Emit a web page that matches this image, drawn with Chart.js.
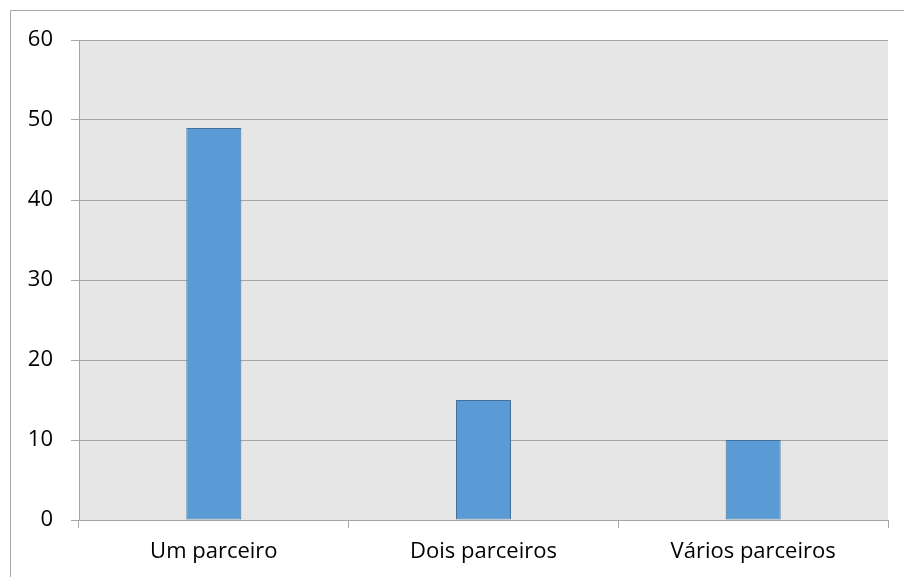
<!DOCTYPE html>
<html>
<head>
<meta charset="utf-8">
<script src="https://cdn.jsdelivr.net/npm/chart.js@4/dist/chart.umd.min.js"></script>
<style>
  html, body { margin: 0; padding: 0; background: #ffffff; }
  #wrap { position: relative; width: 904px; height: 577px; }
</style>
</head>
<body>
<div id="wrap"><canvas id="c" width="904" height="577"></canvas></div>
<script>
const categories = ['Um parceiro', 'Dois parceiros', 'Vários parceiros'];
const values = [49, 15, 10];
const yTicks = [0, 10, 20, 30, 40, 50, 60];

const FONT = { family: "'Open Sans', sans-serif", size: 22 };
const GRID = '#a6a6a6';

// Grey plot background plus the outer frame of the chart object
const framePlugin = {
  id: 'frame',
  beforeDraw(chart) {
    const { ctx, chartArea: a } = chart;
    ctx.save();
    ctx.fillStyle = '#ffffff';
    ctx.fillRect(0, 0, chart.width, chart.height);
    ctx.fillStyle = '#e6e6e6';
    ctx.fillRect(a.left, a.top, a.right - a.left, a.bottom - a.top);
    ctx.strokeStyle = '#a6a6a6';
    ctx.lineWidth = 1;
    ctx.beginPath();
    ctx.moveTo(10.5, chart.height);
    ctx.lineTo(10.5, 10.5);
    ctx.lineTo(chart.width, 10.5);
    ctx.stroke();
    ctx.restore();
  }
};

new Chart(document.getElementById('c'), {
  type: 'bar',
  data: {
    labels: categories,
    datasets: [{
      data: values,
      backgroundColor: '#5b9bd5',
      borderColor: '#41719c',
      borderWidth: 1,
      borderSkipped: false,
      categoryPercentage: 1,
      barPercentage: 0.204
    }]
  },
  options: {
    responsive: false,
    animation: false,
    devicePixelRatio: 1,
    layout: { padding: { top: 40, right: 16, left: 0, bottom: 0 } },
    plugins: { legend: { display: false }, tooltip: { enabled: false } },
    scales: {
      x: {
        grid: {
          offset: true,
          drawOnChartArea: false,
          drawTicks: true,
          tickLength: 8,
          color: GRID
        },
        border: { display: true, color: GRID },
        ticks: { color: '#000000', font: FONT, padding: 11, maxRotation: 0 },
        afterFit(scale) { scale.height = 57; }
      },
      y: {
        min: 0,
        max: 60,
        afterBuildTicks(scale) { scale.ticks = yTicks.map(v => ({ value: v })); },
        grid: { color: GRID, tickLength: 8 },
        border: { display: true, color: GRID },
        ticks: { color: '#000000', font: FONT, padding: 18 },
        afterFit(scale) { scale.width = 79; }
      }
    }
  },
  plugins: [framePlugin]
});
</script>
</body>
</html>
